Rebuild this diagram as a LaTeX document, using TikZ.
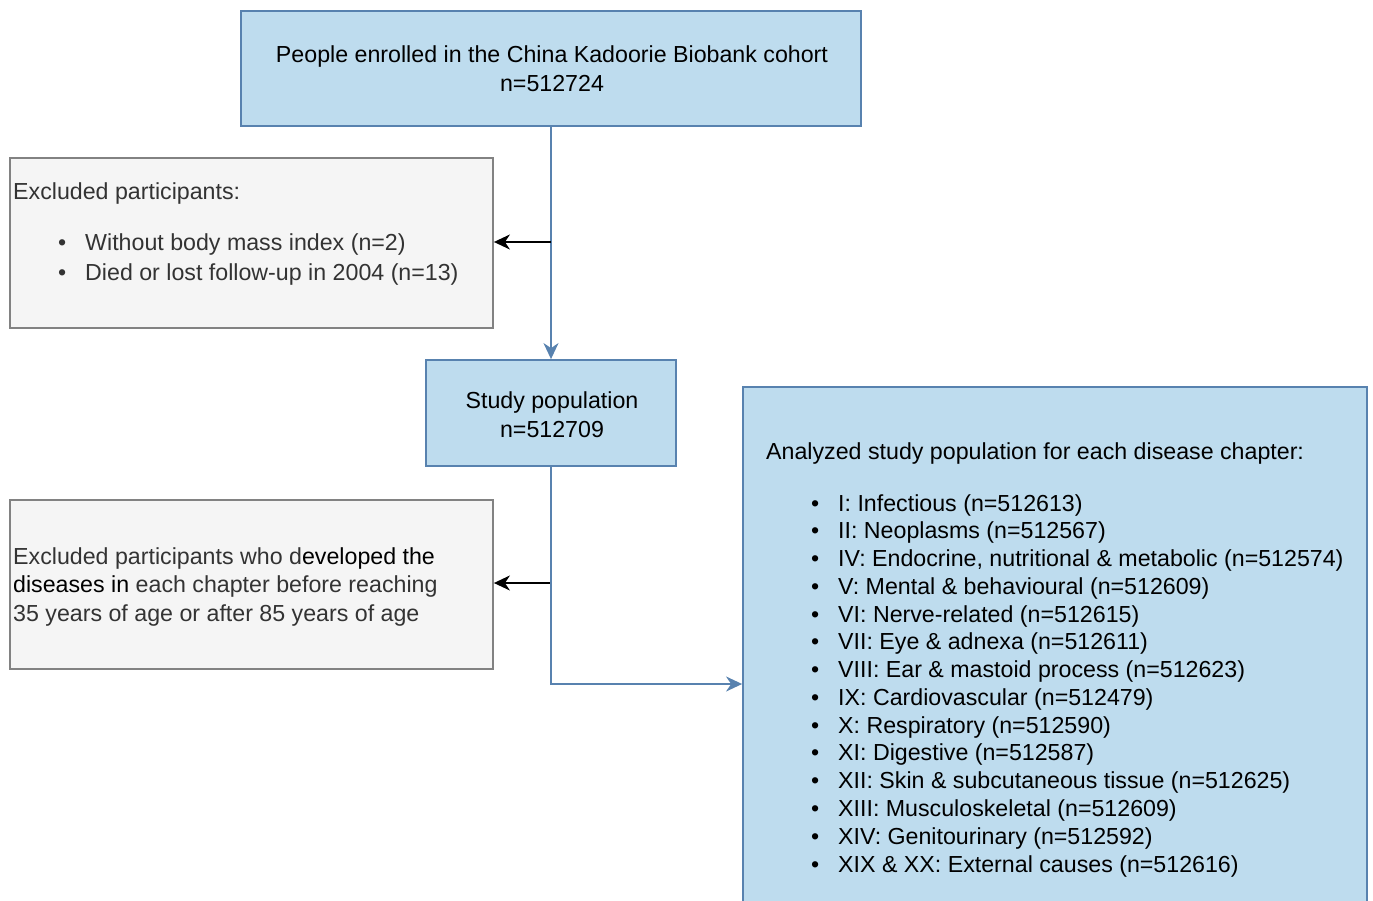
\documentclass[tikz,border=0pt]{standalone}
\usepackage{fontspec}
\setmainfont{Liberation Sans}
\usetikzlibrary{arrows.meta}
\definecolor{boxblue}{RGB}{190,220,238}
\definecolor{lineblue}{RGB}{88,130,175}
\definecolor{boxgray}{RGB}{245,245,245}
\definecolor{linegray}{RGB}{130,130,130}
\definecolor{txtgray}{RGB}{51,51,51}
\tikzset{
  bluebox/.style={draw=lineblue, fill=boxblue, line width=1.8pt, inner sep=0pt},
  graybox/.style={draw=linegray, fill=boxgray, line width=1.8pt, inner sep=0pt},
  txt/.style={inner sep=0pt, font=\fontsize{23.2}{29}\selectfont},
  blueflow/.style={draw=lineblue, line width=1.6pt, -{Stealth[length=16pt,width=15pt,inset=5pt]}},
  blackflow/.style={draw=black, line width=1.6pt, -{Stealth[length=16pt,width=15pt,inset=5pt]}},
}
\begin{document}
\begin{tikzpicture}[x=1pt,y=-1pt]
\useasboundingbox (0,0) rectangle (1373,901);
\clip (0,0) rectangle (1373,901);
% boxes
\node[bluebox, minimum width=620pt, minimum height=115pt] (top) at (551,68.5) {};
\node[graybox, minimum width=483pt, minimum height=170pt] (excl1) at (251.5,243) {};
\node[bluebox, minimum width=250pt, minimum height=106pt] (study) at (551,413) {};
\node[graybox, minimum width=483pt, minimum height=169pt] (excl2) at (251.5,584.5) {};
\node[bluebox, minimum width=624pt, minimum height=540pt] (right) at (1055,657) {};
% top text
\node[txt, anchor=base] (t1) at (552,63) {People enrolled in the China Kadoorie Biobank cohort};
\node[txt, anchor=base] (t2) at (552,92) {n=512724};
% excl1 text
\node[txt, anchor=base west, text=txtgray] (e1) at (13,200) {Excluded participants:};
\node[txt, anchor=base west, text=txtgray] (e1b1) at (58,251) {•};
\node[txt, anchor=base west, text=txtgray] (e1i1) at (85,251) {Without body mass index (n=2)};
\node[txt, anchor=base west, text=txtgray] (e1b2) at (58,280) {•};
\node[txt, anchor=base west, text=txtgray] (e1i2) at (85,280) {Died or lost follow-up in 2004 (n=13)};
% study text
\node[txt, anchor=base] (s1) at (552,408) {Study population};
\node[txt, anchor=base] (s2) at (552,437) {n=512709};
% excl2 text
\node[txt, anchor=base west] (x1) at (13,564) {{\color{txtgray}Excluded participants who d}eveloped the};
\node[txt, anchor=base west] (x2) at (13,592) {diseases in {\color{txtgray}each chapter before reaching}};
\node[txt, anchor=base west, text=txtgray] (x3) at (13,621) {35 years of age or after 85 years of age};
% right text
\node[txt, anchor=base west] (r0) at (766,459) {Analyzed study population for each disease chapter:};
\foreach \t [count=\i from 0] in {
  {I: Infectious (n=512613)},
  {II: Neoplasms (n=512567)},
  {IV: Endocrine, nutritional \& metabolic (n=512574)},
  {V: Mental \& behavioural (n=512609)},
  {VI: Nerve-related (n=512615)},
  {VII: Eye \& adnexa (n=512611)},
  {VIII: Ear \& mastoid process (n=512623)},
  {IX: Cardiovascular (n=512479)},
  {X: Respiratory (n=512590)},
  {XI: Digestive (n=512587)},
  {XII: Skin \& subcutaneous tissue (n=512625)},
  {XIII: Musculoskeletal (n=512609)},
  {XIV: Genitourinary (n=512592)},
  {XIX \& XX: External causes (n=512616)}} {
  \node[txt, anchor=base west] (rb\i) at (811,511+\i*27.77) {•};
  \node[txt, anchor=base west] (ri\i) at (838,511+\i*27.77) {\t};
}
% connectors
\coordinate (j1) at (551,242);
\coordinate (j2) at (551,583);
\coordinate (j3) at (551,684);
\draw[blueflow] (top.south) -- (study.north);
\draw[blackflow] (j1) -- (j1 -| excl1.east);
\draw[blackflow] (j2) -- (j2 -| excl2.east);
\draw[blueflow] (study.south) -- (j3) -- (j3 -| right.west);
\end{tikzpicture}
\end{document}
